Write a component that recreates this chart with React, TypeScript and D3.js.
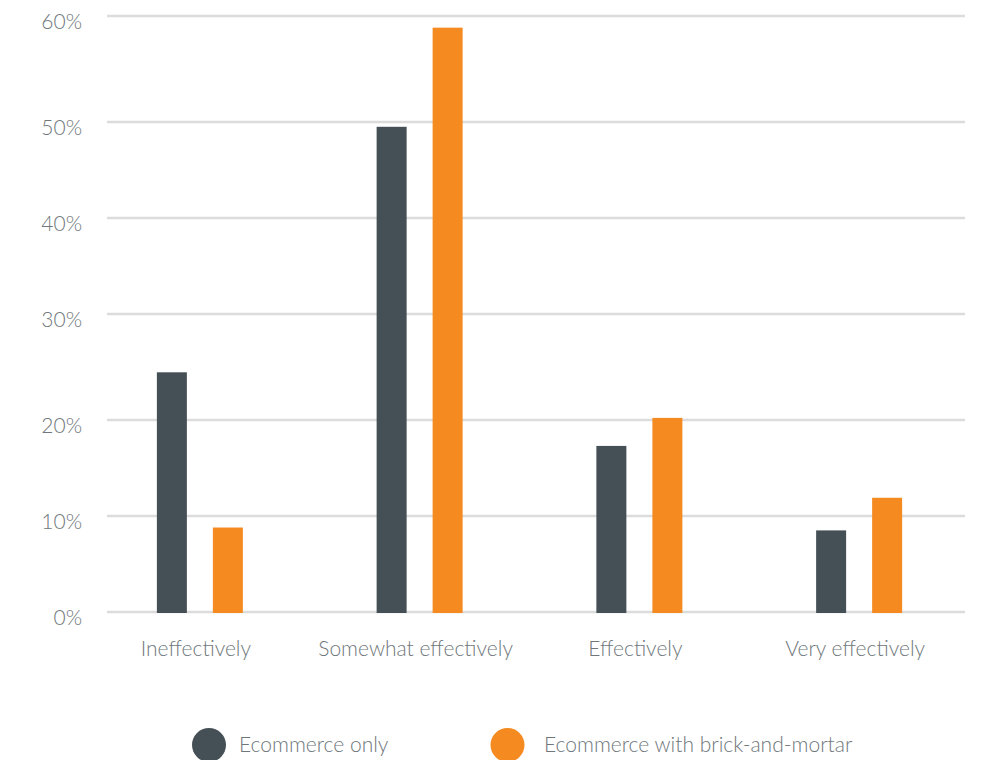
import React from "react";
import * as d3 from "d3";

const categories = ["Ineffectively", "Somewhat effectively", "Effectively", "Very effectively"];
const seriesNames = ["Ecommerce only", "Ecommerce with brick-and-mortar"];
const ecommerceOnly = [24.5, 49.5, 17.3, 8.5];
const withBrickAndMortar = [8.8, 58.9, 20.2, 11.9];
const yTicks = [0, 10, 20, 30, 40, 50, 60];
const colors = ["#455056", "#f58a21"];

const W = 981;
const H = 760;
const FONT = "Lato, 'Open Sans', sans-serif";
const TEXT = "#6f777b";

export default function App() {
  // gridline pixel positions in the reference are slightly uneven; polylinear scale reproduces them
  const y = d3
    .scaleLinear()
    .domain(yTicks)
    .range([612, 516, 420, 314, 218, 122, 16]);
  const x = d3.scaleBand<string>().domain(categories).range([90, 969]);
  const inner = d3
    .scaleBand<string>()
    .domain(seriesNames)
    .range([-43, 43])
    .paddingInner(26 / 56);
  const series = [ecommerceOnly, withBrickAndMortar];
  const legendCircleX = [209, 507.5];
  const legendTextX = [239, 544];

  return (
    <svg
      width={W}
      height={H}
      style={{ position: "absolute", left: 0, top: 0, background: "#fff" }}
      fontFamily={FONT}
    >
      {yTicks.map((t) => (
        <g key={t}>
          <line x1={107} x2={965} y1={y(t)} y2={y(t)} stroke="#dcdcdc" strokeWidth={2.5} />
          <text
            x={82}
            y={y(t) + 13}
            textAnchor="end"
            fontSize={21}
            fontWeight={300}
            fill={TEXT}
          >
            {t}%
          </text>
        </g>
      ))}
      {categories.map((c, i) => {
        const cx = (x(c) ?? 0) + x.bandwidth() / 2;
        return (
          <g key={c}>
            {series.map((s, j) => (
              <rect
                key={j}
                x={cx + (inner(seriesNames[j]) ?? 0)}
                y={y(s[i])}
                width={inner.bandwidth()}
                height={y(0) - y(s[i]) + 1}
                fill={colors[j]}
              />
            ))}
            <text
              x={cx - 4}
              y={656}
              textAnchor="middle"
              fontSize={21}
              fontWeight={300}
              fill={TEXT}
            >
              {c}
            </text>
          </g>
        );
      })}
      {seriesNames.map((n, j) => (
        <g key={n}>
          <circle cx={legendCircleX[j]} cy={745} r={17} fill={colors[j]} />
          <text
            x={legendTextX[j]}
            y={752}
            fontSize={21}
            fontWeight={300}
            fill={TEXT}
          >
            {n}
          </text>
        </g>
      ))}
    </svg>
  );
}
